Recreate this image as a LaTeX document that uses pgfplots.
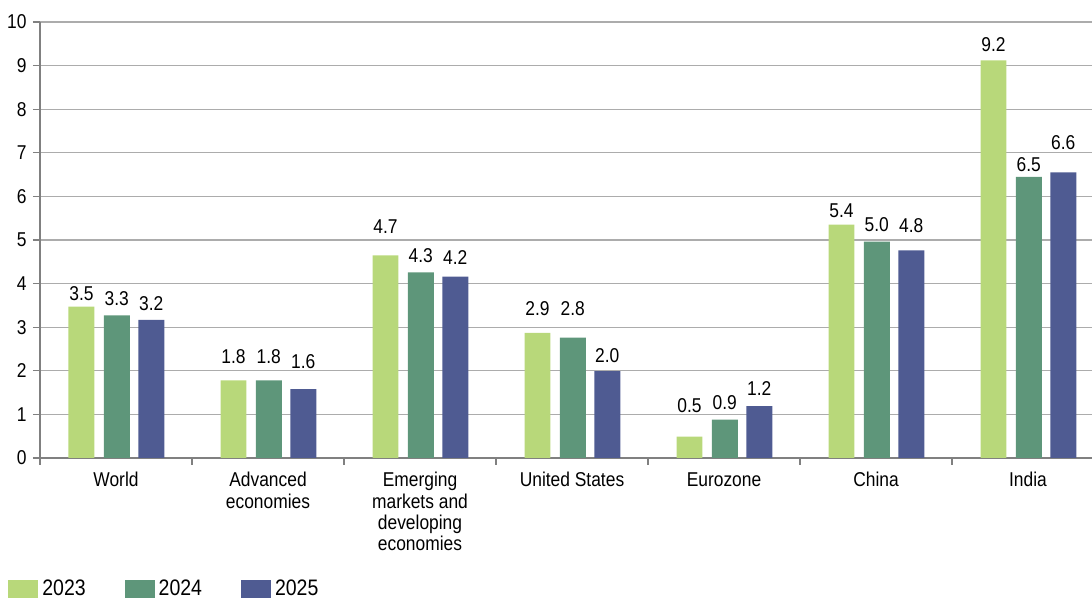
\documentclass[border=0pt]{standalone}
\usepackage{fontspec}
\setmainfont{Liberation Sans}[FakeStretch=0.87]
\usepackage{pgfplots}
\usepackage{pgfplotstable}
\pgfplotsset{compat=1.18}
\definecolor{cA}{RGB}{184,216,122}
\definecolor{cB}{RGB}{94,150,122}
\definecolor{cC}{RGB}{79,91,146}
\definecolor{gridc}{RGB}{172,172,172}
\definecolor{axc}{RGB}{128,128,128}

\pgfplotstableread{
x y lab dy
0 3.47 3.5 3
1 1.78 1.8 8.5
2 4.65 4.7 11
3 2.87 2.9 8.5
4 0.49 0.5 12
5 5.35 5.4 3.5
6 9.12 9.2 4.5
}\tA
\pgfplotstableread{
x y lab dy
0 3.27 3.3 5
1 1.78 1.8 8.5
2 4.26 4.3 5
3 2.76 2.8 11
4 0.88 0.9 5.3
5 4.96 5.0 5.3
6 6.45 6.5 2.5
}\tB
\pgfplotstableread{
x y lab dy
0 3.17 3.2 4.5
1 1.58 1.6 10.5
2 4.16 4.2 6
3 1.99 2.0 4.3
4 1.19 1.2 5.5
5 4.76 4.8 9
6 6.55 6.6 11.5
}\tC

\begin{document}
\begin{tikzpicture}
\begin{axis}[
  scale only axis, width=532pt, height=218pt,
  xmin=-0.5, xmax=6.5, ymin=0, ymax=10,
  axis x line=bottom, axis y line=left,
  axis line style={-, draw=axc, line width=0.6pt},
  ytick={0,...,10},
  ymajorgrids, grid style={draw=gridc, line width=0.6pt},
  xtick={-0.5,0.5,...,6.5}, xticklabels={},
  tick align=outside, major tick length=3.5pt,
  tick style={draw=axc, line width=0.6pt},
  extra x ticks={0,1,2,3,4,5,6},
  extra x tick labels={World,{Advanced\\economies},{Emerging\\markets and\\developing\\economies},United States,Eurozone,China,India},
  extra x tick style={major tick length=0pt, tick style={draw=none},
     xticklabel style={align=center, anchor=north, inner sep=0pt, yshift=-7pt,
       font=\fontsize{10}{10.6}\selectfont}},
  font=\fontsize{10}{10.6}\selectfont,
  /pgf/number format/assume math mode=true,
  yticklabel style={anchor=east, inner sep=0pt, xshift=-3pt},
  visualization depends on={\thisrow{dy} \as \myshift},
  nodes near coords, point meta=explicit symbolic,
  every node near coord/.append style={anchor=base, inner sep=0pt, yshift=\myshift pt,
     font=\fontsize{10}{10.6}\selectfont, text=black},
  legend columns=3,
  legend style={draw=none, fill=none, at={(-0.0301,-0.279)}, anchor=north west,
     inner sep=0pt, nodes={inner sep=0pt}, font=\fontsize{11.2}{12}\selectfont,
     /tikz/every odd column/.append style={column sep=2pt},
     /tikz/every even column/.append style={column sep=19.5pt}},
]
\addplot[ybar, bar width=0.171, bar shift=-0.227, fill=cA, draw=none,
  every node near coord/.append style={xshift=-17.25pt},
  legend image code/.code={\fill[cA] (0pt,-4.5pt) rectangle (15pt,4.5pt);}]
  table[x=x, y=y, meta=lab] {\tA};
\addlegendentry{2023}
\addplot[ybar, bar width=0.171, bar shift=0.005, fill=cB, draw=none,
  every node near coord/.append style={xshift=0.38pt},
  legend image code/.code={\fill[cB] (0pt,-4.5pt) rectangle (15pt,4.5pt);}]
  table[x=x, y=y, meta=lab] {\tB};
\addlegendentry{2024}
\addplot[ybar, bar width=0.171, bar shift=0.232, fill=cC, draw=none,
  every node near coord/.append style={xshift=17.63pt},
  legend image code/.code={\fill[cC] (0pt,-4.5pt) rectangle (15pt,4.5pt);}]
  table[x=x, y=y, meta=lab] {\tC};
\addlegendentry{2025}
\coordinate (O) at (rel axis cs:0,0);
\end{axis}
\pgfresetboundingbox
\useasboundingbox ([shift={(-20pt,-70pt)}]O) rectangle ([shift={(526pt,229pt)}]O);
\end{tikzpicture}
\end{document}
